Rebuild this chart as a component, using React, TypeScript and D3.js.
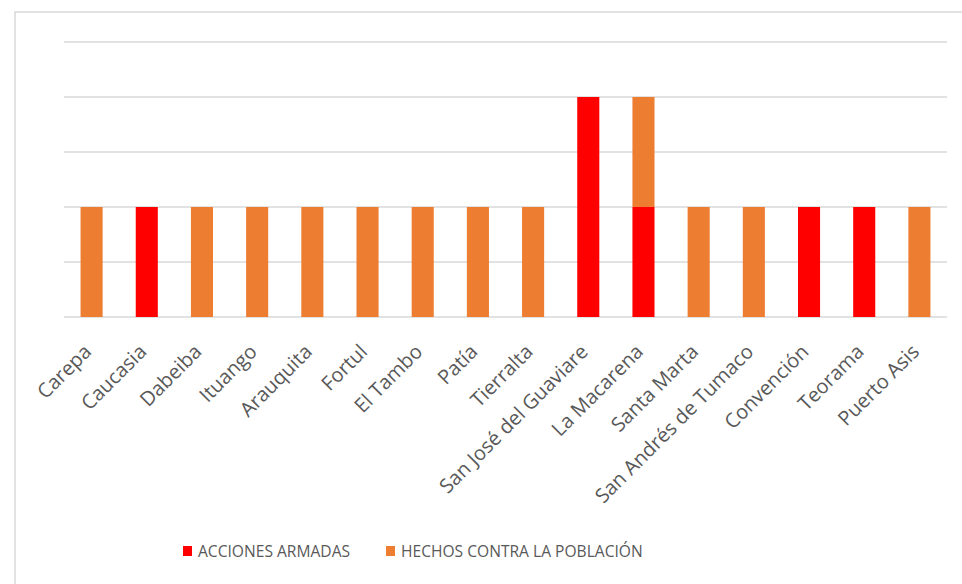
import React, { useEffect, useRef } from 'react';
import * as d3 from 'd3';

// Municipios y número de hechos por tipo
const municipios = [
  'Carepa', 'Caucasia', 'Dabeiba', 'Ituango', 'Arauquita', 'Fortul', 'El Tambo', 'Patía',
  'Tierralta', 'San José del Guaviare', 'La Macarena', 'Santa Marta', 'San Andrés de Tumaco',
  'Convención', 'Teorama', 'Puerto Asis',
];
const accionesArmadas = [0, 1, 0, 0, 0, 0, 0, 0, 0, 2, 1, 0, 0, 1, 1, 0];
const hechosPoblacion = [1, 0, 1, 1, 1, 1, 1, 1, 1, 0, 1, 1, 1, 0, 0, 1];
const yTicks = [0, 0.5, 1, 1.5, 2, 2.5];

const seriesKeys = ['acciones', 'hechos'];
const seriesNames = ['ACCIONES ARMADAS', 'HECHOS CONTRA LA POBLACIÓN'];
const seriesColors = ['#FF0000', '#ED7D31'];

const W = 962;
const H = 584;

const App = () => {
  const svgRef = useRef<SVGSVGElement>(null);

  useEffect(() => {
    const svg = d3.select(svgRef.current);
    svg.selectAll('*').remove();

    const font = '"Open Sans", "Noto Sans", sans-serif';
    const margin = { top: 42, right: 15, bottom: 267, left: 64 };
    const innerW = W - margin.left - margin.right;
    const innerH = H - margin.top - margin.bottom;

    // chart frame
    svg.append('rect')
      .attr('x', 15).attr('y', 12)
      .attr('width', W).attr('height', H)
      .attr('fill', '#fff')
      .attr('stroke', '#d9d9d9')
      .attr('stroke-width', 1.5);

    const g = svg.append('g').attr('transform', `translate(${margin.left},${margin.top})`);

    const table = municipios.map((m, i) => ({
      municipio: m,
      acciones: accionesArmadas[i],
      hechos: hechosPoblacion[i],
    }));

    const x = d3.scaleBand().domain(municipios).range([0, innerW]).paddingInner(0.6).paddingOuter(0.3);
    const y = d3.scaleLinear().domain([0, 2.5]).range([innerH, 0]);

    // grid
    g.append('g')
      .selectAll('line')
      .data(yTicks)
      .enter()
      .append('line')
      .attr('x1', 0).attr('x2', innerW)
      .attr('y1', d => y(d)).attr('y2', d => y(d))
      .attr('stroke', '#d9d9d9')
      .attr('stroke-width', 1.5);

    // stacked bars
    const stack = d3.stack<any>().keys(seriesKeys)(table);
    stack.forEach((layer, si) => {
      g.append('g')
        .selectAll('rect')
        .data(layer.filter(d => d[1] - d[0] > 0))
        .enter()
        .append('rect')
        .attr('x', d => x(d.data.municipio)!)
        .attr('width', x.bandwidth())
        .attr('y', d => y(d[1]))
        .attr('height', d => y(d[0]) - y(d[1]))
        .attr('fill', seriesColors[si]);
    });

    // category labels
    g.append('g')
      .selectAll('text')
      .data(municipios)
      .enter()
      .append('text')
      .attr('transform', d => `translate(${x(d)! + x.bandwidth() / 2 + 1},${innerH + 36}) rotate(-45)`)
      .attr('text-anchor', 'end')
      .attr('font-family', font)
      .attr('font-size', 20)
      .attr('fill', '#595959')
      .text(d => d);

    // legend
    const legend = svg.append('g').attr('transform', 'translate(183,551)');
    const legendX = [0, 203];
    seriesNames.forEach((name, i) => {
      const item = legend.append('g').attr('transform', `translate(${legendX[i]},0)`);
      item.append('rect')
        .attr('x', 0).attr('y', -5)
        .attr('width', 9).attr('height', 10)
        .attr('fill', seriesColors[i]);
      item.append('text')
        .attr('x', 15).attr('y', 0)
        .attr('dy', '0.36em')
        .attr('font-family', font)
        .attr('font-size', 15.6)
        .attr('fill', '#595959')
        .text(name);
    });
  }, []);

  return (
    <div style={{ position: 'fixed', left: 0, top: 0, background: '#fff' }}>
      <svg ref={svgRef} width={W} height={H} style={{ display: 'block' }}></svg>
    </div>
  );
};

export default App;
